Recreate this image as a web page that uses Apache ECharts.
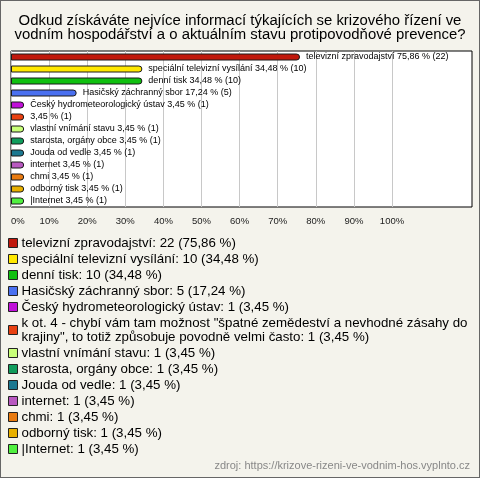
<!DOCTYPE html>
<html>
<head>
<meta charset="utf-8">
<script src="https://cdn.jsdelivr.net/npm/echarts@6/dist/echarts.min.js"></script>
<style>
    html, body { margin: 0; padding: 0; }
    #chart {
        width: 480px; height: 478px;
        box-sizing: border-box;
        border: 1px solid #666;
        background: #f4f3ec;
    }
</style>
</head>
<body>
<div id="chart"></div>
<script>
    // kategorie (plné názvy do legendy)
    var categories = [
        'televizní zpravodajství',
        'speciální televizní vysílání',
        'denní tisk',
        'Hasičský záchranný sbor',
        'Český hydrometeorologický ústav',
        'k ot. 4 - chybí vám tam možnost "špatné zemědeství a nevhodné zásahy do krajiny", to totiž způsobuje povodně velmi často',
        'vlastní vnímání stavu',
        'starosta, orgány obce',
        'Jouda od vedle',
        'internet',
        'chmi',
        'odborný tisk',
        '|Internet'
    ];
    // popisky u sloupců (dlouhý název se vynechává)
    var barNames = [
        'televizní zpravodajství', 'speciální televizní vysílání', 'denní tisk',
        'Hasičský záchranný sbor', 'Český hydrometeorologický ústav', '',
        'vlastní vnímání stavu', 'starosta, orgány obce', 'Jouda od vedle',
        'internet', 'chmi', 'odborný tisk', '|Internet'
    ];
    var counts = [22, 10, 10, 5, 1, 1, 1, 1, 1, 1, 1, 1, 1];
    var percents = [75.86, 34.48, 34.48, 17.24, 3.45, 3.45, 3.45, 3.45, 3.45, 3.45, 3.45, 3.45, 3.45];
    var colors = ['#c0180c', '#ffe800', '#10c010', '#4a70f0', '#c010d8', '#e84010', '#c8ff78',
                  '#109c5c', '#1c7890', '#b858c0', '#e87a10', '#e8b000', '#50f040'];
    var tickValues = [0, 10, 20, 30, 40, 50, 60, 70, 80, 90, 100];

    function fmt(v) { return String(v.toFixed(2)).replace('.', ','); }

    var chart = echarts.init(document.getElementById('chart'), null, { renderer: 'canvas' });

    var series = categories.map(function (name, i) {
        var d = categories.map(function (c, j) { return j === i ? percents[i] : '-'; });
        return {
            name: name,
            type: 'bar',
            stack: 'all',
            barWidth: 7,
            data: d,
            itemStyle: {
                color: colors[i],
                borderColor: '#1a1a1a',
                borderWidth: 1,
                borderRadius: [0, 3, 3, 0]
            },
            label: {
                show: true,
                position: 'right',
                distance: 6,
                fontFamily: 'Liberation Sans',
                fontSize: 9,
                color: '#000',
                formatter: function () {
                    var s = fmt(percents[i]) + ' % (' + counts[i] + ')';
                    return barNames[i] ? barNames[i] + ' ' + s : s;
                }
            },
            silent: true
        };
    });

    chart.setOption({
        animation: false,
        title: {
            text: 'Odkud získáváte nejvíce informací týkajících se krizového řízení ve\nvodním hospodářství a o aktuálním stavu protipovodňové prevence?',
            left: 'center',
            top: 13,
            padding: 0,
            textStyle: {
                fontFamily: 'Liberation Sans',
                fontSize: 14.9,
                fontWeight: 'normal',
                color: '#000',
                lineHeight: 14,
                align: 'center'
            }
        },
        grid: {
            left: 10, top: 50, width: 461, height: 156,
            show: true,
            backgroundColor: '#fff',
            borderColor: '#000',
            borderWidth: 1
        },
        xAxis: {
            type: 'value',
            min: 0,
            max: 121,
            interval: 10,
            axisLine: { show: false },
            axisTick: { show: false },
            splitLine: {
                show: true,
                lineStyle: {
                    color: tickValues.map(function () { return '#c8c8c8'; }).concat(['rgba(0,0,0,0)', 'rgba(0,0,0,0)', 'rgba(0,0,0,0)'])
                }
            },
            axisLabel: {
                margin: 9,
                fontFamily: 'Liberation Sans',
                fontSize: 9.5,
                color: '#222',
                alignMinLabel: 'left',
                formatter: function (v) { return tickValues.indexOf(v) >= 0 ? v + '%' : ''; }
            }
        },
        yAxis: {
            type: 'category',
            inverse: true,
            data: categories,
            axisLine: { show: false },
            axisTick: { show: false },
            axisLabel: { show: false },
            splitLine: { show: false }
        },
        legend: {
            orient: 'vertical',
            left: 7,
            top: 235,
            padding: 0,
            itemWidth: 9,
            itemHeight: 9,
            itemGap: 2,
            icon: 'rect',
            selectedMode: false,
            itemStyle: { borderColor: '#222', borderWidth: 1, borderRadius: 0 },
            textStyle: {
                fontFamily: 'Liberation Sans',
                fontSize: 13.3,
                color: '#000',
                lineHeight: 14,
                padding: [0, 0, 0, -1]
            },
            formatter: function (name) {
                var i = categories.indexOf(name);
                // dlouhý text se láme jako v originále
                return (name + ': ' + counts[i] + ' (' + fmt(percents[i]) + ' %)').replace(' do krajiny', ' do\nkrajiny');
            },
            data: categories
        },
        graphic: [{
            type: 'text',
            right: 9,
            bottom: 6,
            style: {
                text: 'zdroj: https://krizove-rizeni-ve-vodnim-hos.vyplnto.cz',
                fontFamily: 'Liberation Sans',
                fontSize: 11,
                fill: '#888'
            }
        }],
        series: series
    });
</script>
</body>
</html>
